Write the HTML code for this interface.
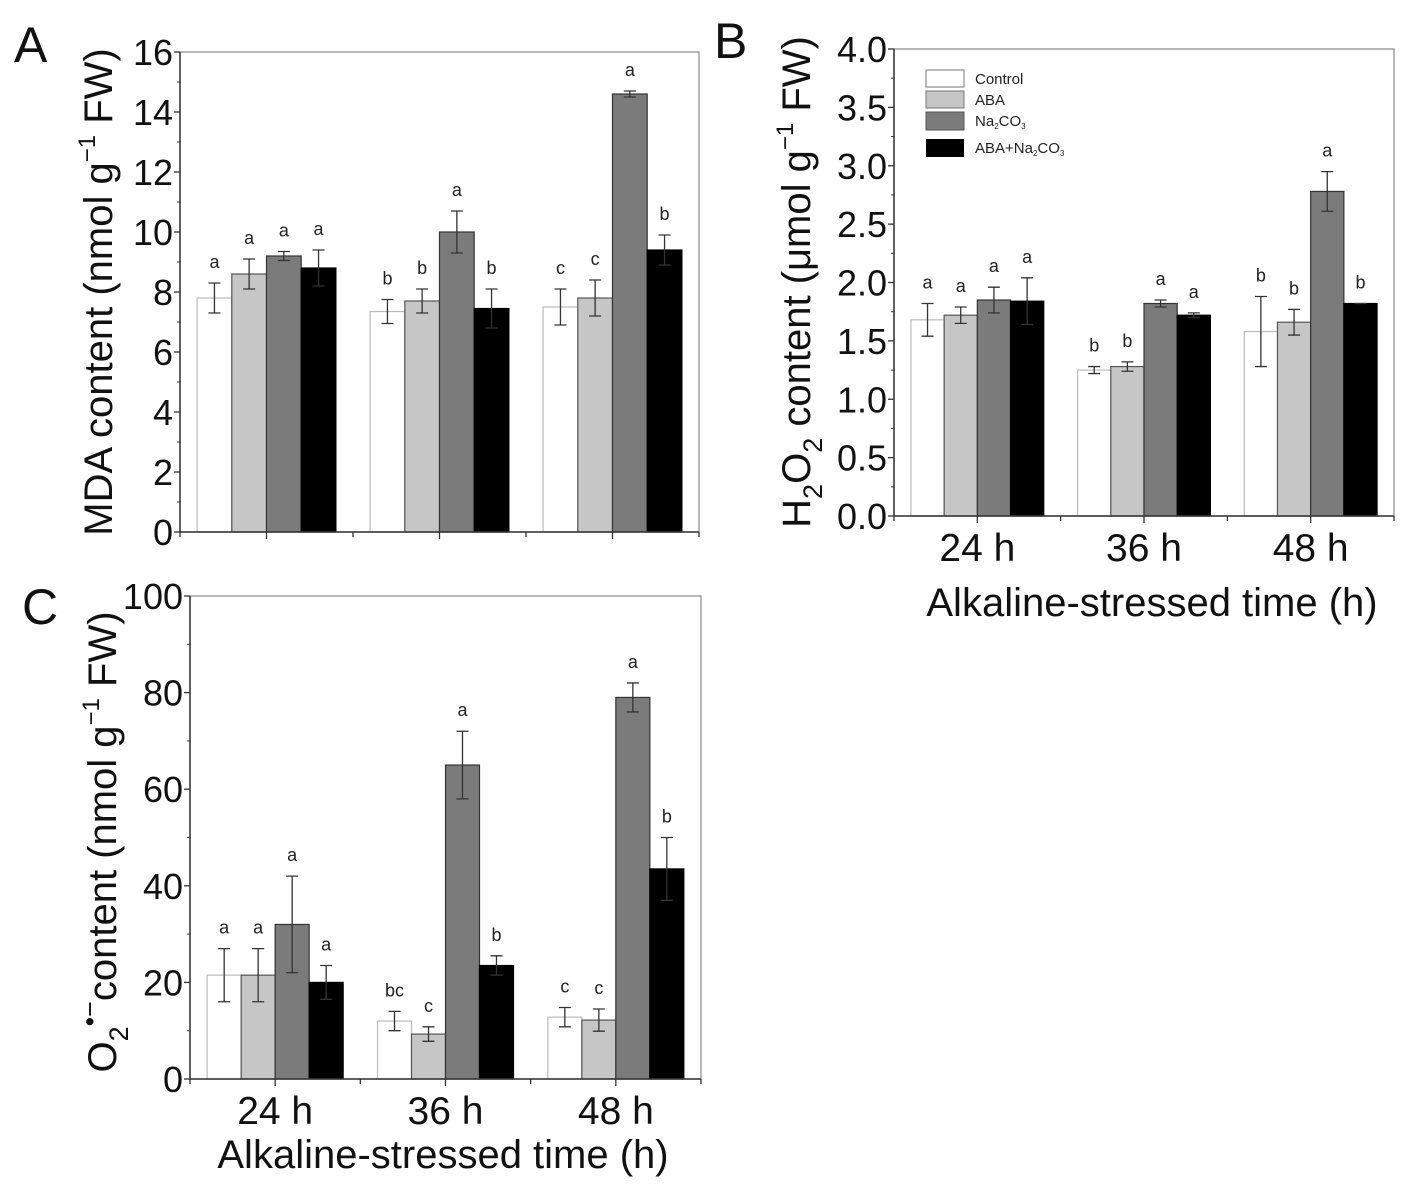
<!DOCTYPE html>
<html><head><meta charset="utf-8"><style>
body{margin:0;background:#fff;}
svg{display:block;font-family:"Liberation Sans",Arial,sans-serif;}
</style></head><body>
<svg id="fig" width="1415" height="1194" viewBox="0 0 1415 1194" xmlns="http://www.w3.org/2000/svg"></svg>
<script>
const series = ['Control','ABA','Na2CO3','ABA+Na2CO3'];
const groups = ['24 h','36 h','48 h'];
const mdaValues = [[7.8,8.6,9.2,8.8],[7.35,7.7,10.0,7.45],[7.5,7.8,14.6,9.4]];
const mdaErrors = [[0.5,0.5,0.15,0.6],[0.4,0.4,0.7,0.65],[0.6,0.6,0.1,0.5]];
const mdaLetters = [['a','a','a','a'],['b','b','a','b'],['c','c','a','b']];
const mdaTicks = ['0','2','4','6','8','10','12','14','16'];
const h2o2Values = [[1.68,1.72,1.85,1.84],[1.25,1.28,1.82,1.72],[1.58,1.66,2.78,1.82]];
const h2o2Errors = [[0.14,0.07,0.11,0.2],[0.03,0.04,0.03,0.02],[0.3,0.11,0.17,0.0]];
const h2o2Letters = [['a','a','a','a'],['b','b','a','a'],['b','b','a','b']];
const h2o2Ticks = ['0.0','0.5','1.0','1.5','2.0','2.5','3.0','3.5','4.0'];
const o2Values = [[21.5,21.5,32,20],[12,9.3,65,23.5],[12.8,12.2,79,43.5]];
const o2Errors = [[5.5,5.5,10,3.5],[2,1.5,7,2],[2,2.3,3,6.5]];
const o2Letters = [['a','a','a','a'],['bc','c','a','b'],['c','c','a','b']];
const o2Ticks = ['0','20','40','60','80','100'];

const NS='http://www.w3.org/2000/svg';
const svg=document.getElementById('fig');
const fills=['#ffffff','#c6c6c6','#7b7b7b','#000000'];
const strokes=['#bbbbbb','#555555','#333333','#000000'];
function mk(tag,attrs,parent){const e=document.createElementNS(NS,tag);for(const k in attrs)e.setAttribute(k,attrs[k]);(parent||svg).appendChild(e);return e;}

function panel(cfg){
  const g=mk('g',{});
  
  
  const {x0,x1,y0,y1,max}=cfg;
  const ys=v=>y0-(v/max)*(y0-y1);
  const gw=(x1-x0)/3;
  const bw=cfg.bw;
  const xs=(gi,si)=>x0+gw*(gi+0.5)+(si-2)*bw;
  cfg.values.forEach((row,gi)=>row.forEach((v,si)=>{
    const r=mk('rect',{x:xs(gi,si),y:ys(v),width:bw,height:y0-ys(v),fill:fills[si],stroke:strokes[si],'stroke-width':1.2},g);
    
    
    const e=cfg.errors[gi][si], cx=xs(gi,si)+bw/2;
    const eb=mk('path',{d:`M${cx},${ys(v+e)}V${ys(Math.max(0,v-e))}M${cx-6},${ys(v+e)}h12M${cx-6},${ys(Math.max(0,v-e))}h12`,stroke:'#333','stroke-width':1.3,fill:'none'},g);
    
    
    const t=mk('text',{x:cx,y:ys(v+e)-15,'font-size':18,'text-anchor':'middle',fill:'#222'},g);
    t.textContent=cfg.letters[gi][si];
    
    
  }));
  const f=mk('rect',{x:x0,y:y1,width:x1-x0,height:y0-y1,fill:'none',stroke:'#888','stroke-width':1.2},g);
  
  
  mk('line',{x1:x0,y1:y0,x2:x1,y2:y0,stroke:'#333','stroke-width':1.5},g);
  mk('line',{x1:x0,y1:y0,x2:x0,y2:y1,stroke:'#333','stroke-width':1.5},g);
  const n=cfg.ticks.length-1;
  for(let i=0;i<=n;i++){
    const v=max*i/n, y=ys(v);
    mk('line',{x1:x0-6,y1:y,x2:x0,y2:y,stroke:'#333','stroke-width':1.3},g);
    if(i<n){const ym=ys(max*(i+0.5)/n);mk('line',{x1:x0-3,y1:ym,x2:x0,y2:ym,stroke:'#333','stroke-width':1},g);}
    const t=mk('text',{x:x0-7,y:y+13,'font-size':36,'text-anchor':'end',fill:'#111'},g);
    t.textContent=cfg.ticks[i];
    
    
  }
  for(let i=0;i<=6;i++){
    const x=x0+gw*i/2;
    mk('line',{x1:x,y1:y0,x2:x,y2:y0+(i%2?7:5),stroke:'#333','stroke-width':1.3},g);
  }
  if(cfg.xlabels){groups.forEach((lab,gi)=>{
    const t=mk('text',{x:x0+gw*(gi+0.5),y:y0+45,'font-size':39,'text-anchor':'middle',fill:'#111'},g);
    t.textContent=lab;
    
    
  });}
  return g;
}

panel({name:'panel-a-mda',x0:180,x1:699,y0:532,y1:52,max:16,bw:34.7,values:mdaValues,errors:mdaErrors,letters:mdaLetters,ticks:mdaTicks,xlabels:false});
panel({name:'panel-b-h2o2',x0:894,x1:1394,y0:516,y1:49,max:4,bw:33.2,values:h2o2Values,errors:h2o2Errors,letters:h2o2Letters,ticks:h2o2Ticks,xlabels:true});
panel({name:'panel-c-o2',x0:190,x1:701,y0:1079,y1:596,max:100,bw:34,values:o2Values,errors:o2Errors,letters:o2Letters,ticks:o2Ticks,xlabels:true});
</script>
<svg width="1415" height="1194" style="position:absolute;left:0;top:0" xmlns="http://www.w3.org/2000/svg">
<text x="14" y="62" font-size="50" fill="#111">A</text>
<text x="714" y="58" font-size="50" fill="#111">B</text>
<text x="22" y="624" font-size="50" fill="#111">C</text>
<text transform="translate(112,292) rotate(-90)" font-size="40" text-anchor="middle" fill="#111">MDA content (nmol g<tspan dy="-17" font-size="24">−1</tspan><tspan dy="17"> FW)</tspan></text>
<text transform="translate(810,282) rotate(-90)" font-size="40" text-anchor="middle" fill="#111">H<tspan dy="12" font-size="27">2</tspan><tspan dy="-12">O</tspan><tspan dy="12" font-size="27">2</tspan><tspan dy="-12"> content (μmol g</tspan><tspan dy="-17" font-size="24">−1</tspan><tspan dy="17"> FW)</tspan></text>
<text transform="translate(116,842) rotate(-90)" font-size="40" text-anchor="middle" fill="#111">O<tspan dy="12" font-size="27">2</tspan><tspan dy="-29" font-size="27">•−</tspan><tspan dy="17">content (nmol g</tspan><tspan dy="-17" font-size="24">−1</tspan><tspan dy="17"> FW)</tspan></text>
<text x="1152" y="616" font-size="40" text-anchor="middle" fill="#111">Alkaline-stressed time (h)</text>
<text x="443" y="1168" font-size="40" text-anchor="middle" fill="#111">Alkaline-stressed time (h)</text>
<g font-size="15" fill="#222">
<rect x="926" y="70" width="38" height="17" fill="#fff" stroke="#777"/>
<text x="975" y="84">Control</text>
<rect x="926" y="91" width="38" height="17" fill="#c6c6c6" stroke="#777"/>
<text x="975" y="105">ABA</text>
<rect x="926" y="112" width="38" height="18" fill="#7b7b7b" stroke="#555"/>
<text x="975" y="126">Na<tspan dy="3" font-size="8">2</tspan><tspan dy="-3">CO</tspan><tspan dy="3" font-size="8">3</tspan></text>
<rect x="926" y="139" width="38" height="18" fill="#000"/>
<text x="975" y="153">ABA+Na<tspan dy="3" font-size="8">2</tspan><tspan dy="-3">CO</tspan><tspan dy="3" font-size="8">3</tspan></text>
</g>
</svg>
</body></html>
